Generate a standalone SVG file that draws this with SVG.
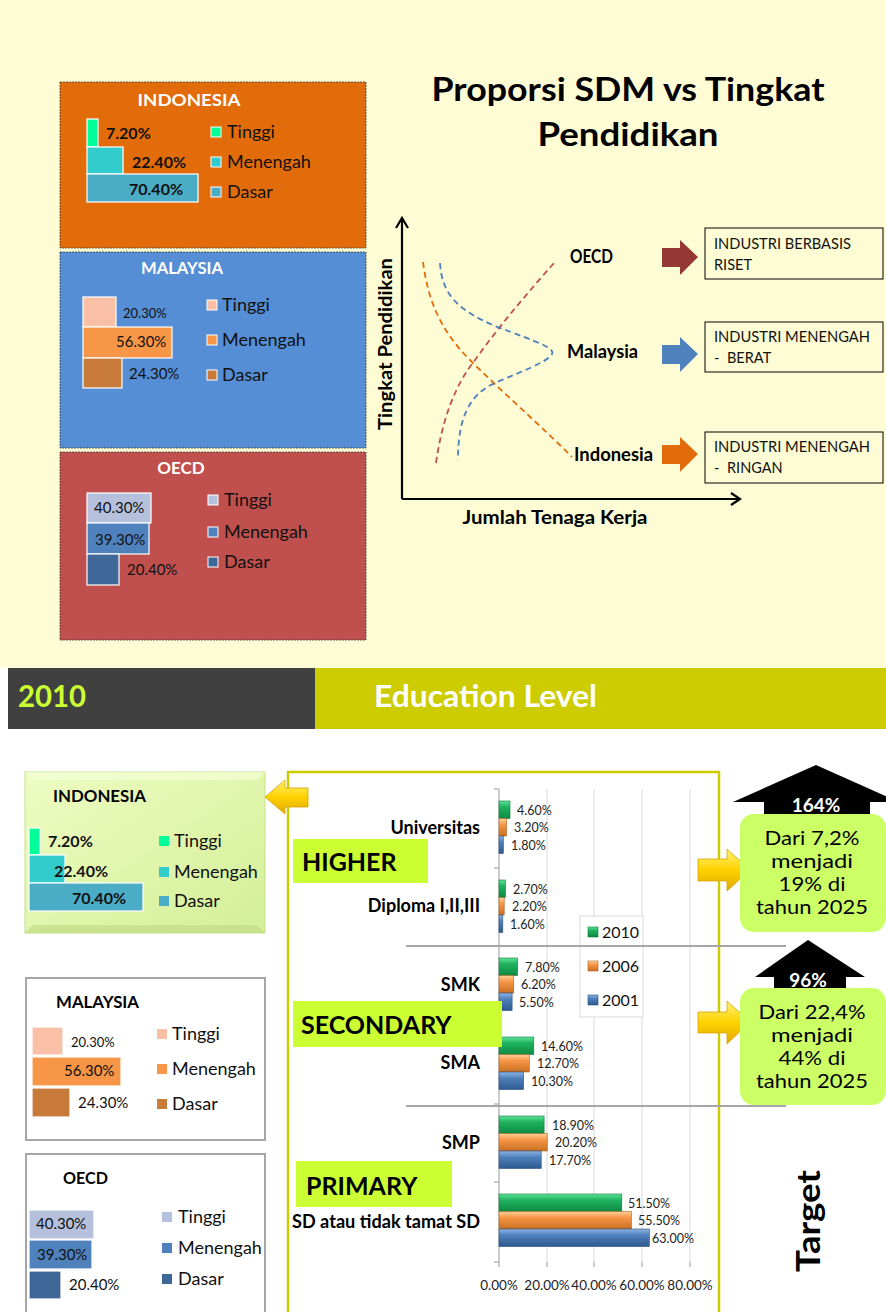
<svg xmlns="http://www.w3.org/2000/svg" width="886" height="1312" viewBox="0 0 886 1312">
<defs>
<style>
text{font-family:Lato,"Open Sans","Liberation Sans",sans-serif;}
.b{font-weight:bold;}
.wt{fill:#fff;font-weight:bold;font-size:17px;}
.lg{font-size:18px;fill:#111;}
.pc{font-size:15px;fill:#111;}
.pcb{font-size:16px;fill:#111;font-weight:bold;}
.bl{stroke:#fff;stroke-width:1.2;}
.dl{fill:none;stroke-width:1.8;stroke-dasharray:6 4;}
.ax{fill:none;stroke:#000;stroke-width:2.2;}
.ib{fill:#fefcd4;stroke:#000;stroke-width:1;}
.it{font-size:14.5px;fill:#111;}
.vl{font-size:12.5px;fill:#222;}
.cat{font-size:18px;font-weight:bold;fill:#000;text-anchor:end;}
.grid{stroke:#d9d9d9;stroke-width:1;}
.sep{stroke:#a6a6a6;stroke-width:2;}
.sec{fill:#ccff33;}
.sect{font-size:25px;font-weight:bold;fill:#000;}
.tb{fill:#ccff66;}
.tt{font-size:19px;fill:#000;text-anchor:middle;}
.gl{font-size:18px;font-weight:bold;fill:#000;}
.gold{fill:url(#gold);stroke:#d4a200;stroke-width:0.8;}
.panel{fill:#fff;stroke:#a6a6a6;stroke-width:2;}
</style>
<linearGradient id="gG" x1="0" y1="0" x2="0" y2="1"><stop offset="0" stop-color="#5fe39a"/><stop offset="0.35" stop-color="#1fb25e"/><stop offset="1" stop-color="#0e8a43"/></linearGradient>
<linearGradient id="gO" x1="0" y1="0" x2="0" y2="1"><stop offset="0" stop-color="#ffd29a"/><stop offset="0.35" stop-color="#f79646"/><stop offset="1" stop-color="#c86f22"/></linearGradient>
<linearGradient id="gB" x1="0" y1="0" x2="0" y2="1"><stop offset="0" stop-color="#8fb4e3"/><stop offset="0.35" stop-color="#4f81bd"/><stop offset="1" stop-color="#2d5a8e"/></linearGradient>
<linearGradient id="gold" x1="0" y1="0" x2="0" y2="1"><stop offset="0" stop-color="#fff176"/><stop offset="0.5" stop-color="#ffd200"/><stop offset="1" stop-color="#e0a800"/></linearGradient>
<linearGradient id="lgreen" x1="0" y1="0" x2="1" y2="1"><stop offset="0" stop-color="#eefcc2"/><stop offset="1" stop-color="#d3ef98"/></linearGradient>
</defs>

<rect x="0" y="0" width="886" height="668" fill="#fefcd4"/>
<rect x="0" y="729" width="886" height="583" fill="#fff"/>

<g id="panel-indonesia-top">
<rect x="60" y="82" width="306" height="166" fill="#e36c0a" stroke="#3a3a3a" stroke-width="0.8" stroke-dasharray="2 1"/>
<text x="189" y="106" class="wt" font-size="19" text-anchor="middle" textLength="103" lengthAdjust="spacingAndGlyphs">INDONESIA</text>
<rect x="87" y="119" width="11" height="28" fill="#00ff99" class="bl"/>
<rect x="87" y="147" width="36" height="27" fill="#33cccc" class="bl"/>
<rect x="87" y="174" width="111" height="28" fill="#4bacc6" class="bl"/>
<text x="106" y="139" class="pcb">7.20%</text>
<text x="132" y="168" class="pcb">22.40%</text>
<text x="129" y="195" class="pcb">70.40%</text>
<rect x="211" y="127" width="10" height="10" fill="#00ff99" stroke="#fff"/>
<rect x="211" y="157" width="10" height="10" fill="#33cccc" stroke="#fff"/>
<rect x="211" y="187" width="10" height="10" fill="#4bacc6" stroke="#fff"/>
<text x="227" y="138" class="lg">Tinggi</text>
<text x="227" y="168" class="lg">Menengah</text>
<text x="227" y="198" class="lg">Dasar</text>
</g>

<g id="panel-malaysia-top">
<rect x="60" y="252" width="306" height="196" fill="#558ed5" stroke="#3a3a3a" stroke-width="0.8" stroke-dasharray="2 1"/>
<text x="182" y="274" class="wt" text-anchor="middle" textLength="82" lengthAdjust="spacingAndGlyphs">MALAYSIA</text>
<rect x="83" y="297" width="33" height="30" fill="#f9c0a5" class="bl"/>
<rect x="83" y="327" width="89" height="31" fill="#f79646" class="bl"/>
<rect x="83" y="358" width="39" height="30" fill="#c87a3a" class="bl"/>
<text x="123" y="318" font-size="13" fill="#111">20.30%</text>
<text x="116" y="347" class="pc">56.30%</text>
<text x="129" y="379" class="pc">24.30%</text>
<rect x="207" y="300" width="10" height="10" fill="#f9c0a5" stroke="#fff"/>
<rect x="207" y="335" width="10" height="10" fill="#f79646" stroke="#fff"/>
<rect x="207" y="370" width="10" height="10" fill="#c87a3a" stroke="#fff"/>
<text x="222" y="311" class="lg">Tinggi</text>
<text x="222" y="346" class="lg">Menengah</text>
<text x="222" y="381" class="lg">Dasar</text>
</g>

<g id="panel-oecd-top">
<rect x="60" y="452" width="306" height="188" fill="#c0504d" stroke="#3a3a3a" stroke-width="0.8" stroke-dasharray="2 1"/>
<text x="181" y="474" class="wt" text-anchor="middle">OECD</text>
<rect x="87" y="493" width="64" height="30" fill="#b4c0dc" class="bl"/>
<rect x="87" y="523" width="62" height="31" fill="#4f81bd" class="bl"/>
<rect x="87" y="554" width="32" height="31" fill="#3f6898" class="bl"/>
<text x="94" y="513" class="pc">40.30%</text>
<text x="95" y="545" class="pc">39.30%</text>
<text x="127" y="575" class="pc">20.40%</text>
<rect x="208" y="495" width="10" height="10" fill="#b4c0dc" stroke="#fff"/>
<rect x="208" y="527" width="10" height="10" fill="#4f81bd" stroke="#fff"/>
<rect x="208" y="557" width="10" height="10" fill="#3f6898" stroke="#fff"/>
<text x="224" y="506" class="lg">Tinggi</text>
<text x="224" y="538" class="lg">Menengah</text>
<text x="224" y="568" class="lg">Dasar</text>
</g>

<g id="title">
<text x="628" y="101" font-size="33" class="b" text-anchor="middle" fill="#000" textLength="393" lengthAdjust="spacingAndGlyphs">Proporsi SDM vs Tingkat</text>
<text x="628" y="146" font-size="33" class="b" text-anchor="middle" fill="#000" textLength="181" lengthAdjust="spacingAndGlyphs">Pendidikan</text>
</g>

<g id="graph-axes">
<path class="ax" d="M402,499 V220 M396,228 L402,218 L408,228"/>
<path class="ax" d="M402,499 H739 M731,493 L740,499 L731,505"/>
<text transform="translate(392,344) rotate(-90)" class="gl" text-anchor="middle" textLength="172" lengthAdjust="spacingAndGlyphs">Tingkat Pendidikan</text>
<text x="555" y="524" class="gl" text-anchor="middle" textLength="185" lengthAdjust="spacingAndGlyphs">Jumlah Tenaga Kerja</text>
</g>
<g id="curves">
<path class="dl" stroke="#e36c0a" d="M423,262 C428,300 440,330 470,360 C500,390 540,425 572,457"/>
<path class="dl" stroke="#c0504d" d="M436,463 C442,420 455,385 475,360 C500,325 530,290 555,262"/>
<path class="dl" stroke="#4f81bd" d="M440,263 C442,295 458,310 495,326 C540,343 555,348 552,354 C548,362 520,372 495,383 C468,395 458,420 458,460"/>
</g>
<g id="label-oecd"><text x="570" y="263" class="gl" font-size="17" textLength="43" lengthAdjust="spacingAndGlyphs">OECD</text></g>
<g id="label-malaysia"><text x="567" y="358" class="gl" font-size="17" textLength="71" lengthAdjust="spacingAndGlyphs">Malaysia</text></g>
<g id="label-indonesia"><text x="574" y="461" class="gl" font-size="17" textLength="79" lengthAdjust="spacingAndGlyphs">Indonesia</text></g>

<g id="arrow-oecd"><path d="M662,248 H680 V240 L698,257 L680,275 V267 H662 Z" fill="#953735"/></g>
<g id="arrow-malaysia"><path d="M662,345 H680 V337 L698,354 L680,372 V364 H662 Z" fill="#4f81bd"/></g>
<g id="arrow-indonesia"><path d="M662,445 H680 V437 L698,454 L680,472 V464 H662 Z" fill="#e36c0a"/></g>

<g id="box-riset">
<rect class="ib" x="705" y="228" width="178" height="51"/>
<text x="714" y="249" class="it" textLength="137" lengthAdjust="spacingAndGlyphs">INDUSTRI BERBASIS</text>
<text x="714" y="270" class="it">RISET</text>
</g>
<g id="box-berat">
<rect class="ib" x="705" y="322" width="178" height="50"/>
<text x="714" y="342" class="it" textLength="156" lengthAdjust="spacingAndGlyphs">INDUSTRI MENENGAH</text>
<text x="714" y="363" class="it">-</text><text x="727" y="363" class="it">BERAT</text>
</g>
<g id="box-ringan">
<rect class="ib" x="705" y="432" width="178" height="51"/>
<text x="714" y="452" class="it" textLength="156" lengthAdjust="spacingAndGlyphs">INDUSTRI MENENGAH</text>
<text x="714" y="473" class="it">-</text><text x="727" y="473" class="it">RINGAN</text>
</g>

<g id="banner">
<rect x="8" y="668" width="307" height="61" fill="#404040"/>
<rect x="315" y="668" width="571" height="61" fill="#cccc00"/>
<text x="18" y="707" font-size="30" class="b" fill="#ccff33" textLength="68" lengthAdjust="spacingAndGlyphs">2010</text>
<text x="374" y="707" font-size="30" class="b" fill="#fff" textLength="223" lengthAdjust="spacingAndGlyphs">Education Level</text>
</g>

<g id="panel-indonesia-2010">
<rect x="25" y="772" width="240" height="161" fill="url(#lgreen)" stroke="#c8e08a" stroke-width="1"/>
<path d="M25,772 L33,780 H257 L265,772 Z" fill="#f4ffd6" opacity="0.7"/>
<path d="M25,933 L33,925 H257 L265,933 Z" fill="#c2dc86" opacity="0.7"/>
<text x="53" y="802" font-size="17" class="b" fill="#000" textLength="93" lengthAdjust="spacingAndGlyphs">INDONESIA</text>
<rect x="29" y="828" width="11" height="27" fill="#00ff99" class="bl"/>
<rect x="29" y="855" width="36" height="28" fill="#33cccc" class="bl"/>
<rect x="29" y="883" width="114" height="28" fill="#4bacc6" class="bl"/>
<text x="48" y="847" class="pcb">7.20%</text>
<text x="54" y="877" class="pcb">22.40%</text>
<text x="72" y="904" class="pcb">70.40%</text>
<rect x="159" y="836" width="10" height="10" fill="#00ff99"/>
<rect x="159" y="867" width="10" height="10" fill="#33cccc"/>
<rect x="159" y="896" width="10" height="10" fill="#4bacc6"/>
<text x="174" y="847" class="lg">Tinggi</text>
<text x="174" y="878" class="lg">Menengah</text>
<text x="174" y="907" class="lg">Dasar</text>
</g>

<g id="panel-malaysia-2010">
<rect class="panel" x="26" y="978" width="239" height="162"/>
<text x="56" y="1008" font-size="17" class="b" fill="#000" textLength="83" lengthAdjust="spacingAndGlyphs">MALAYSIA</text>
<rect x="32" y="1027" width="31" height="28" fill="#f9c0a5" class="bl"/>
<rect x="32" y="1057" width="89" height="29" fill="#f79646" class="bl"/>
<rect x="32" y="1088" width="38" height="29" fill="#c87a3a" class="bl"/>
<text x="71" y="1047" font-size="13" fill="#111">20.30%</text>
<text x="64" y="1076" class="pc">56.30%</text>
<text x="78" y="1108" class="pc">24.30%</text>
<rect x="157" y="1029" width="10" height="10" fill="#f9c0a5"/>
<rect x="157" y="1064" width="10" height="10" fill="#f79646"/>
<rect x="157" y="1099" width="10" height="10" fill="#c87a3a"/>
<text x="172" y="1040" class="lg">Tinggi</text>
<text x="172" y="1075" class="lg">Menengah</text>
<text x="172" y="1110" class="lg">Dasar</text>
</g>

<g id="panel-oecd-2010">
<rect class="panel" x="26" y="1154" width="239" height="170"/>
<text x="63" y="1184" font-size="17" class="b" fill="#000" textLength="45" lengthAdjust="spacingAndGlyphs">OECD</text>
<rect x="29" y="1210" width="65" height="29" fill="#b4c0dc" class="bl"/>
<rect x="29" y="1240" width="63" height="29" fill="#4f81bd" class="bl"/>
<rect x="29" y="1271" width="32" height="28" fill="#3f6898" class="bl"/>
<text x="36" y="1229" class="pc">40.30%</text>
<text x="37" y="1260" class="pc">39.30%</text>
<text x="69" y="1290" class="pc">20.40%</text>
<rect x="162" y="1212" width="10" height="10" fill="#b4c0dc"/>
<rect x="162" y="1243" width="10" height="10" fill="#4f81bd"/>
<rect x="162" y="1274" width="10" height="10" fill="#3f6898"/>
<text x="178" y="1223" class="lg">Tinggi</text>
<text x="178" y="1254" class="lg">Menengah</text>
<text x="178" y="1285" class="lg">Dasar</text>
</g>

<g id="chart">
<rect x="288" y="772" width="431" height="545" fill="#fff" stroke="#cccc00" stroke-width="2.5"/>
<g id="gridlines">
<line class="grid" x1="547" y1="789" x2="547" y2="1262"/>
<line class="grid" x1="594" y1="789" x2="594" y2="1262"/>
<line class="grid" x1="642" y1="789" x2="642" y2="1262"/>
<line class="grid" x1="690" y1="789" x2="690" y2="1262"/>
</g>
<g id="category-axis" stroke="#999" stroke-width="1">
<line x1="499" y1="789" x2="499" y2="1262"/>
<line x1="494" y1="789" x2="499" y2="789"/>
<line x1="494" y1="868" x2="499" y2="868"/>
<line x1="494" y1="946" x2="499" y2="946"/>
<line x1="494" y1="1025" x2="499" y2="1025"/>
<line x1="494" y1="1104" x2="499" y2="1104"/>
<line x1="494" y1="1182" x2="499" y2="1182"/>
<line x1="494" y1="1262" x2="499" y2="1262"/>
<line x1="499" y1="1262" x2="499" y2="1267"/>
<line x1="547" y1="1262" x2="547" y2="1267"/>
<line x1="594" y1="1262" x2="594" y2="1267"/>
<line x1="642" y1="1262" x2="642" y2="1267"/>
<line x1="690" y1="1262" x2="690" y2="1267"/>
</g>
<g id="bars" stroke-width="0.6">
<rect x="499" y="801" width="11" height="17.5" fill="url(#gG)" stroke="#0b7a3a"/>
<rect x="499" y="818.5" width="7.6" height="17.5" fill="url(#gO)" stroke="#b0601a"/>
<rect x="499" y="836" width="4.3" height="17.5" fill="url(#gB)" stroke="#254e80"/>
<rect x="499" y="880" width="6.4" height="17.5" fill="url(#gG)" stroke="#0b7a3a"/>
<rect x="499" y="897.5" width="5.2" height="17.5" fill="url(#gO)" stroke="#b0601a"/>
<rect x="499" y="915" width="3.8" height="17.5" fill="url(#gB)" stroke="#254e80"/>
<rect x="499" y="958" width="18.6" height="17.5" fill="url(#gG)" stroke="#0b7a3a"/>
<rect x="499" y="975.5" width="14.8" height="17.5" fill="url(#gO)" stroke="#b0601a"/>
<rect x="499" y="993" width="13.1" height="17.5" fill="url(#gB)" stroke="#254e80"/>
<rect x="499" y="1037" width="34.8" height="17.5" fill="url(#gG)" stroke="#0b7a3a"/>
<rect x="499" y="1054.5" width="30.3" height="17.5" fill="url(#gO)" stroke="#b0601a"/>
<rect x="499" y="1072" width="24.6" height="17.5" fill="url(#gB)" stroke="#254e80"/>
<rect x="499" y="1116" width="45.1" height="17.5" fill="url(#gG)" stroke="#0b7a3a"/>
<rect x="499" y="1133.5" width="48.2" height="17.5" fill="url(#gO)" stroke="#b0601a"/>
<rect x="499" y="1151" width="42.2" height="17.5" fill="url(#gB)" stroke="#254e80"/>
<rect x="499" y="1194" width="122.8" height="17.5" fill="url(#gG)" stroke="#0b7a3a"/>
<rect x="499" y="1211.5" width="132.4" height="17.5" fill="url(#gO)" stroke="#b0601a"/>
<rect x="499" y="1229" width="150.3" height="17.5" fill="url(#gB)" stroke="#254e80"/>
</g>
<g id="value-labels" class="vl">
<text x="517" y="815">4.60%</text>
<text x="514" y="832">3.20%</text>
<text x="511" y="850">1.80%</text>
<text x="513" y="894">2.70%</text>
<text x="512" y="911">2.20%</text>
<text x="510" y="929">1.60%</text>
<text x="525" y="972">7.80%</text>
<text x="521" y="989">6.20%</text>
<text x="519" y="1007">5.50%</text>
<text x="541" y="1051">14.60%</text>
<text x="537" y="1068">12.70%</text>
<text x="531" y="1086">10.30%</text>
<text x="552" y="1130">18.90%</text>
<text x="555" y="1147">20.20%</text>
<text x="549" y="1165">17.70%</text>
<text x="628" y="1208">51.50%</text>
<text x="638" y="1225">55.50%</text>
<text x="652" y="1243">63.00%</text>
</g>
<g id="category-labels">
<text x="480" y="834" class="cat">Universitas</text>
<text x="480" y="912" class="cat">Diploma I,II,III</text>
<text x="480" y="991" class="cat">SMK</text>
<text x="480" y="1069" class="cat">SMA</text>
<text x="480" y="1149" class="cat">SMP</text>
<text x="480" y="1228" class="cat" textLength="188" lengthAdjust="spacingAndGlyphs">SD atau tidak tamat SD</text>
</g>
<g id="value-axis" font-size="13.5" fill="#222" text-anchor="middle">
<text x="499" y="1290">0.00%</text>
<text x="547" y="1290">20.00%</text>
<text x="594" y="1290">40.00%</text>
<text x="642" y="1290">60.00%</text>
<text x="690" y="1290">80.00%</text>
</g>
<g id="chart-legend">
<rect x="580" y="916" width="63" height="101" fill="#fff" stroke="#d9d9d9"/>
<rect x="588" y="927" width="10" height="10" fill="url(#gG)" stroke="#0b7a3a" stroke-width="0.6"/>
<rect x="588" y="961" width="10" height="10" fill="url(#gO)" stroke="#b0601a" stroke-width="0.6"/>
<rect x="588" y="995" width="10" height="10" fill="url(#gB)" stroke="#254e80" stroke-width="0.6"/>
<text x="602" y="938" font-size="16" fill="#111">2010</text>
<text x="602" y="972" font-size="16" fill="#111">2006</text>
<text x="602" y="1006" font-size="16" fill="#111">2001</text>
</g>
</g>

<g id="arrow-left"><path class="gold" d="M308,788 V807 H285 V814 L265,797 L285,780 V788 Z"/></g>

<g id="separators">
<line class="sep" x1="406" y1="946" x2="786" y2="946"/>
<line class="sep" x1="406" y1="1106" x2="786" y2="1106"/>
</g>

<g id="label-higher"><rect class="sec" x="293" y="839" width="135" height="44"/><text x="302" y="871" class="sect">HIGHER</text></g>
<g id="label-secondary"><rect class="sec" x="293" y="1001" width="209" height="46"/><text x="301" y="1034" class="sect">SECONDARY</text></g>
<g id="label-primary"><rect class="sec" x="296" y="1161" width="156" height="46"/><text x="306" y="1195" class="sect">PRIMARY</text></g>

<g id="arrow-right-1"><path class="gold" d="M698,859 H727 V849 L750,870 L727,891 V881 H698 Z"/></g>
<g id="arrow-right-2"><path class="gold" d="M698,1012 H727 V1001 L750,1022 L727,1044 V1033 H698 Z"/></g>

<g id="target-164">
<path d="M816,765 L899,802 H870 V825 H764 V802 H733 Z" fill="#000"/>
<rect class="tb" x="740" y="814" width="146" height="118" rx="14"/>
<text x="816" y="812" font-size="19" class="b" fill="#fff" text-anchor="middle">164%</text>
<text x="812" y="845" class="tt" textLength="95" lengthAdjust="spacingAndGlyphs">Dari 7,2%</text>
<text x="812" y="868" class="tt" textLength="82" lengthAdjust="spacingAndGlyphs">menjadi</text>
<text x="812" y="891" class="tt" textLength="67" lengthAdjust="spacingAndGlyphs">19% di</text>
<text x="812" y="914" class="tt" textLength="112" lengthAdjust="spacingAndGlyphs">tahun 2025</text>
</g>
<g id="target-96">
<path d="M808,940 L865,977 H846 V995 H774 V977 H755 Z" fill="#000"/>
<rect class="tb" x="740" y="988" width="146" height="117" rx="14"/>
<text x="808" y="987" font-size="19" class="b" fill="#fff" text-anchor="middle">96%</text>
<text x="812" y="1019" class="tt" textLength="107" lengthAdjust="spacingAndGlyphs">Dari 22,4%</text>
<text x="812" y="1042" class="tt" textLength="82" lengthAdjust="spacingAndGlyphs">menjadi</text>
<text x="812" y="1065" class="tt" textLength="67" lengthAdjust="spacingAndGlyphs">44% di</text>
<text x="812" y="1088" class="tt" textLength="112" lengthAdjust="spacingAndGlyphs">tahun 2025</text>
</g>
<g id="target-label"><text transform="translate(820,1221) rotate(-90)" font-size="32" class="b" fill="#000" text-anchor="middle" textLength="102" lengthAdjust="spacingAndGlyphs">Target</text></g>
</svg>
